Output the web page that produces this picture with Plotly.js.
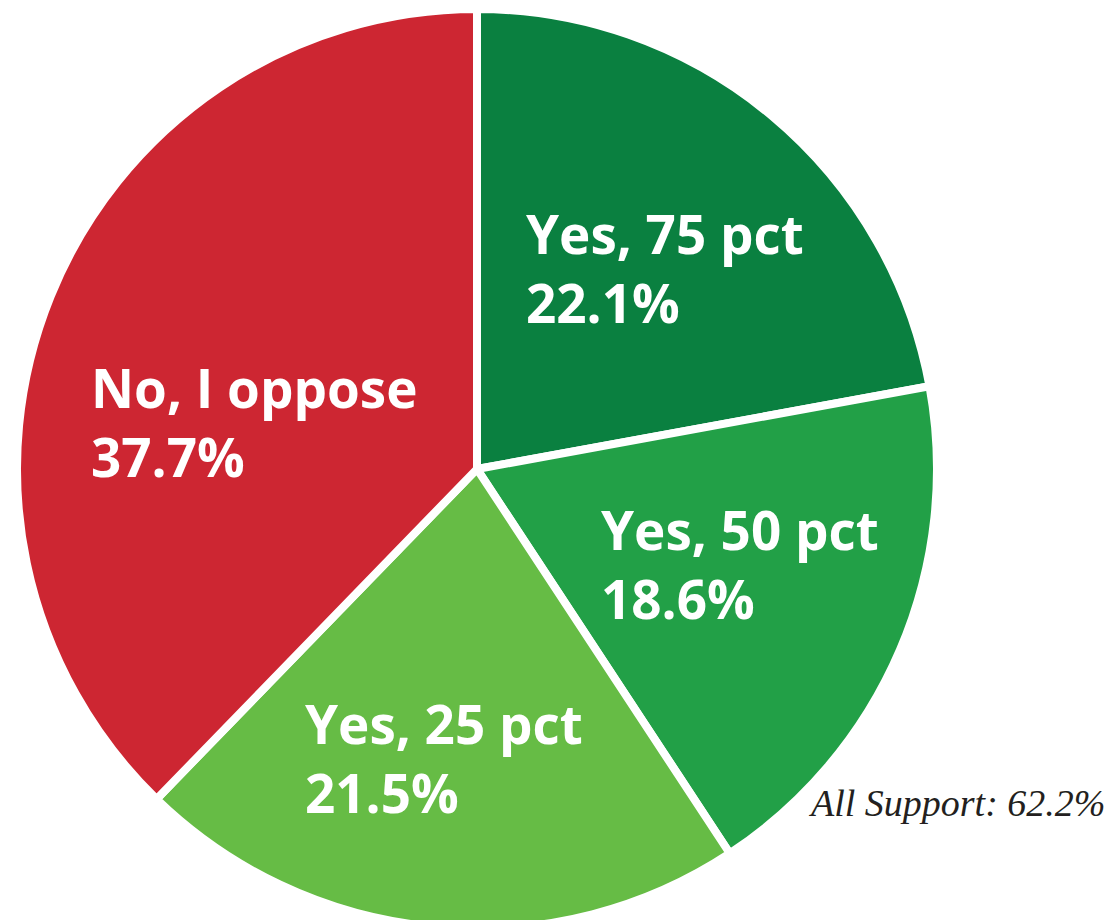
<!DOCTYPE html>
<html>
<head>
<meta charset="utf-8">
<script src="https://cdn.plot.ly/plotly-3.0.1.min.js"></script>
<style>
  html, body { margin: 0; padding: 0; background: #ffffff; overflow: hidden; }
  #chart { width: 1110px; height: 938px; }
</style>
</head>
<body>
<div id="chart"></div>
<script>
// ---- data ----
const categories = ['Yes, 75 pct', 'Yes, 50 pct', 'Yes, 25 pct', 'No, I oppose'];
const shares = [22.1, 18.6, 21.5, 37.7];
const shareLabels = ['22.1%', '18.6%', '21.5%', '37.7%'];
const sliceColors = ['#0a8040', '#22a047', '#66bc45', '#cd2632'];
const noteText = 'All Support: 62.2%';

// ---- layout helpers (pixel -> paper); figure is slightly taller than the
// 920px window so the pie is clipped at the bottom like the reference ----
const W = 1110, H = 938;
const px = x => x / W;
const py = y => 1 - y / H;

// pie centre and radius in pixels
const CX = 477, CY = 469, R = 460;

// label placement (left edge, vertical centre of the two-line block), in pixels
const labelPos = [
  {x: 524, y: 268},
  {x: 599, y: 564},
  {x: 303, y: 758},
  {x: 89,  y: 422}
];

const labelFont = {family: "'Open Sans', Lato, sans-serif", size: 53, color: '#ffffff', weight: 700};

const annotations = categories.map((c, i) => ({
  xref: 'paper', yref: 'paper', x: px(labelPos[i].x), y: py(labelPos[i].y),
  xanchor: 'left', yanchor: 'middle', align: 'left', showarrow: false,
  text: c + '<br>' + shareLabels[i], font: labelFont
}));
annotations.push({
  xref: 'paper', yref: 'paper', x: px(806), y: py(803),
  xanchor: 'left', yanchor: 'middle', showarrow: false,
  text: noteText,
  font: {family: "'Liberation Serif', 'Times New Roman', serif", size: 38, color: '#231f20', style: 'italic'}
});

const trace = {
  type: 'pie',
  labels: categories,
  values: shares,
  sort: false,
  direction: 'clockwise',
  rotation: 0,
  textinfo: 'none',
  hoverinfo: 'none',
  showlegend: false,
  marker: {colors: sliceColors, line: {color: '#ffffff', width: 8}},
  domain: {x: [px(CX - R), px(CX + R)], y: [(H - CY - R) / H, (H - CY + R) / H]}
};

const layout = {
  width: W, height: H,
  margin: {l: 0, r: 0, t: 0, b: 0, pad: 0},
  paper_bgcolor: '#ffffff',
  plot_bgcolor: '#ffffff',
  showlegend: false,
  annotations: annotations
};

Plotly.newPlot('chart', [trace], layout, {displayModeBar: false, staticPlot: true});
</script>
</body>
</html>
